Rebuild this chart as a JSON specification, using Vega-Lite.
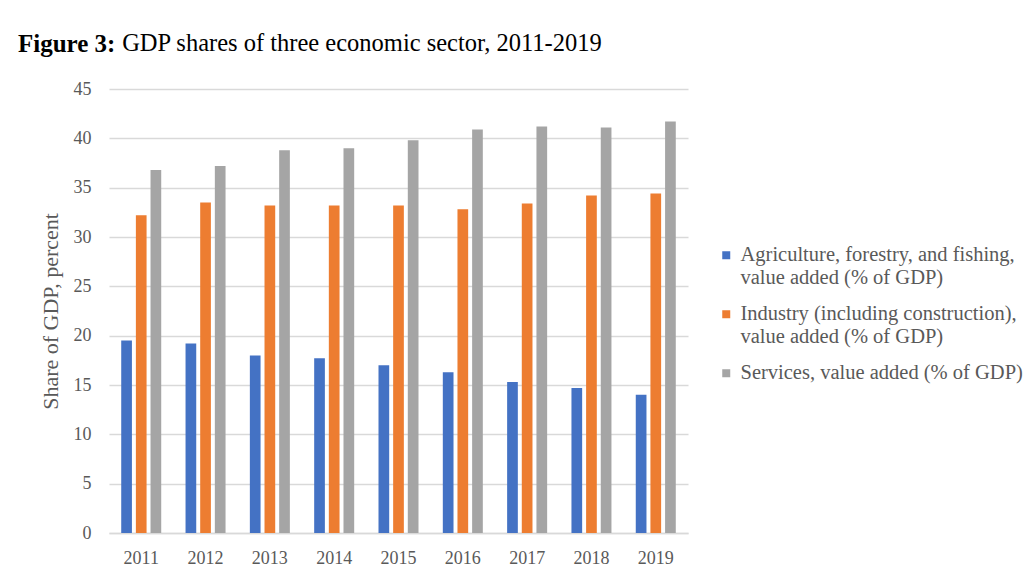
{
  "$schema": "https://vega.github.io/schema/vega-lite/v6.json",
  "width": 579,
  "height": 444,
  "autosize": {"type": "none"},
  "padding": {"left": 109, "top": 89, "right": 343, "bottom": 40},
  "background": "white",
  "title": {
    "text": "Figure 3:",
    "subtitle": "\u200b\u00a0\u00a0\u00a0\u00a0\u00a0\u00a0\u00a0\u00a0\u00a0\u00a0\u00a0\u00a0\u00a0\u00a0\u00a0\u00a0\u00a0GDP shares of three economic sector, 2011-2019",
    "anchor": "start",
    "frame": "group",
    "dx": -91,
    "offset": 22,
    "font": "Liberation Serif",
    "fontSize": 25,
    "fontWeight": "bold",
    "color": "#000000",
    "lineHeight": 25,
    "subtitleFont": "Liberation Serif",
    "subtitleFontSize": 24.5,
    "subtitleFontWeight": "normal",
    "subtitleColor": "#000000",
    "subtitleLineHeight": 25,
    "subtitlePadding": -25
  },
  "data": {
    "values": [
      {"year": "2011", "sector": "Agriculture, forestry, and fishing, value added (% of GDP)", "share": 19.5},
      {"year": "2011", "sector": "Industry (including construction), value added (% of GDP)", "share": 32.2},
      {"year": "2011", "sector": "Services, value added (% of GDP)", "share": 36.8},
      {"year": "2012", "sector": "Agriculture, forestry, and fishing, value added (% of GDP)", "share": 19.2},
      {"year": "2012", "sector": "Industry (including construction), value added (% of GDP)", "share": 33.5},
      {"year": "2012", "sector": "Services, value added (% of GDP)", "share": 37.2},
      {"year": "2013", "sector": "Agriculture, forestry, and fishing, value added (% of GDP)", "share": 18.0},
      {"year": "2013", "sector": "Industry (including construction), value added (% of GDP)", "share": 33.2},
      {"year": "2013", "sector": "Services, value added (% of GDP)", "share": 38.8},
      {"year": "2014", "sector": "Agriculture, forestry, and fishing, value added (% of GDP)", "share": 17.7},
      {"year": "2014", "sector": "Industry (including construction), value added (% of GDP)", "share": 33.2},
      {"year": "2014", "sector": "Services, value added (% of GDP)", "share": 39.0},
      {"year": "2015", "sector": "Agriculture, forestry, and fishing, value added (% of GDP)", "share": 17.0},
      {"year": "2015", "sector": "Industry (including construction), value added (% of GDP)", "share": 33.2},
      {"year": "2015", "sector": "Services, value added (% of GDP)", "share": 39.8},
      {"year": "2016", "sector": "Agriculture, forestry, and fishing, value added (% of GDP)", "share": 16.3},
      {"year": "2016", "sector": "Industry (including construction), value added (% of GDP)", "share": 32.8},
      {"year": "2016", "sector": "Services, value added (% of GDP)", "share": 40.9},
      {"year": "2017", "sector": "Agriculture, forestry, and fishing, value added (% of GDP)", "share": 15.3},
      {"year": "2017", "sector": "Industry (including construction), value added (% of GDP)", "share": 33.4},
      {"year": "2017", "sector": "Services, value added (% of GDP)", "share": 41.2},
      {"year": "2018", "sector": "Agriculture, forestry, and fishing, value added (% of GDP)", "share": 14.7},
      {"year": "2018", "sector": "Industry (including construction), value added (% of GDP)", "share": 34.2},
      {"year": "2018", "sector": "Services, value added (% of GDP)", "share": 41.1},
      {"year": "2019", "sector": "Agriculture, forestry, and fishing, value added (% of GDP)", "share": 14.0},
      {"year": "2019", "sector": "Industry (including construction), value added (% of GDP)", "share": 34.4},
      {"year": "2019", "sector": "Services, value added (% of GDP)", "share": 41.7}
    ]
  },
  "mark": {"type": "bar"},
  "encoding": {
    "x": {
      "field": "year",
      "type": "nominal",
      "scale": {"paddingInner": 0.378, "paddingOuter": 0.19},
      "axis": {
        "title": null,
        "labelAngle": 0,
        "labelFont": "Liberation Serif",
        "labelFontSize": 18,
        "labelColor": "#595959",
        "labelPadding": 16,
        "ticks": false,
        "tickSize": 0,
        "domainColor": "#D9D9D9",
        "domainWidth": 1.5,
        "grid": false
      }
    },
    "xOffset": {
      "field": "sector",
      "type": "nominal",
      "scale": {"paddingInner": 0.27, "paddingOuter": 0}
    },
    "y": {
      "field": "share",
      "type": "quantitative",
      "scale": {"domain": [0, 45], "nice": false},
      "axis": {
        "title": "Share of GDP, percent",
        "titleFont": "Liberation Serif",
        "titleFontSize": 22,
        "titleFontWeight": "normal",
        "titleColor": "#595959",
        "titlePadding": 11,
        "values": [0, 5, 10, 15, 20, 25, 30, 35, 40, 45],
        "labelFont": "Liberation Serif",
        "labelFontSize": 18,
        "labelColor": "#595959",
        "labelPadding": 18,
        "ticks": false,
        "tickSize": 0,
        "domain": false,
        "gridColor": "#D9D9D9",
        "gridWidth": 1.5
      }
    },
    "color": {
      "field": "sector",
      "type": "nominal",
      "scale": {
        "domain": [
          "Agriculture, forestry, and fishing, value added (% of GDP)",
          "Industry (including construction), value added (% of GDP)",
          "Services, value added (% of GDP)"
        ],
        "range": ["#4472C4", "#ED7D31", "#A5A5A5"]
      },
      "legend": {
        "title": null,
        "orient": "none",
        "legendX": 607,
        "legendY": 156,
        "symbolType": "square",
        "symbolSize": 64,
        "symbolStrokeWidth": 0,
        "labelFont": "Liberation Serif",
        "labelFontSize": 20.5,
        "labelColor": "#595959",
        "labelLimit": 0,
        "labelOffset": 4,
        "rowPadding": 15,
        "labelExpr": "datum.value == 'Agriculture, forestry, and fishing, value added (% of GDP)' ? ['Agriculture, forestry, and fishing,', 'value added (% of GDP)'] : datum.value == 'Industry (including construction), value added (% of GDP)' ? ['Industry (including construction),', 'value added (% of GDP)'] : datum.label"
      }
    }
  },
  "config": {
    "view": {"stroke": null}
  }
}
